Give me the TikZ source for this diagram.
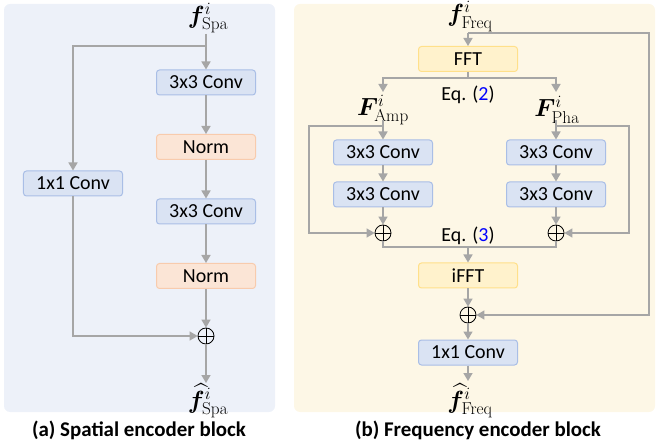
\documentclass[tikz,border=0pt]{standalone}
\usepackage{amsmath,bm}
\usepackage[no-math]{fontspec}
\setmainfont{Carlito}
\usetikzlibrary{arrows.meta}
\definecolor{bgA}{HTML}{EDF1F9}
\definecolor{bgB}{HTML}{FDF7E6}
\definecolor{convF}{HTML}{DAE3F3}
\definecolor{convD}{HTML}{A9BEE6}
\definecolor{normF}{HTML}{FBE5D6}
\definecolor{normD}{HTML}{F8CBAD}
\definecolor{fftF}{HTML}{FFF2CC}
\definecolor{fftD}{HTML}{FFE08A}
\definecolor{arrC}{HTML}{A6A6A6}
\definecolor{eqblue}{HTML}{0000FF}
\tikzset{
  txt/.style={font=\fontsize{20}{24}\selectfont, inner sep=0pt},
  mth/.style={font=\fontsize{23}{27}\selectfont, inner sep=0pt},
  blk/.style={txt, rounded corners=3bp, line width=1bp, minimum height=25bp, minimum width=99bp},
  convbox/.style={blk, fill=convF, draw=convD},
  normbox/.style={blk, fill=normF, draw=normD},
  fftbox/.style={blk, fill=fftF, draw=fftD},
  arr/.style={draw=arrC, line width=1.5bp, -{Triangle[width=9bp,length=8bp]}},
  ln/.style={draw=arrC, line width=1.5bp},
  plus/.style={circle, draw=black, line width=0.8bp, minimum size=16bp, inner sep=0pt,
    path picture={\draw[black, line width=0.8bp] (path picture bounding box.north) -- (path picture bounding box.south)
      (path picture bounding box.west) -- (path picture bounding box.east);}},
  captext/.style={font=\fontsize{21}{25}\selectfont\bfseries, inner sep=0pt},
}
\begin{document}
\begin{tikzpicture}[x=1bp,y=-1bp]
\useasboundingbox (0,0) rectangle (659,445);
% panels
\fill[bgA, rounded corners=6bp] (4,4) rectangle (275,412);
\fill[bgB, rounded corners=6bp] (294,4) rectangle (655,412);

% ---------- (a) spatial ----------
\node[mth] (fS) at (208,18) {$\bm{f}^{i}_{\mathrm{Spa}}$};
\coordinate (sA) at (206,34);
\coordinate (bA) at (206,46);
\node[convbox] (c1) at (206,82.5) {3x3 Conv};
\node[normbox] (n1) at (206,147) {Norm};
\node[convbox] (k1) at (73,183.5) {1x1 Conv};
\node[convbox] (c2) at (206,211.5) {3x3 Conv};
\node[normbox] (n2) at (206,276) {Norm};
\node[plus] (p1) at (206,336) {};
\coordinate (eA) at (206,383);
\node[mth] (hS) at (208,401) {$\widehat{\bm{f}}^{i}_{\mathrm{Spa}}$};
\node[captext] (capA) at (139,430) {(a) Spatial encoder block};

\draw[arr] (sA) -- (c1.north);
\draw[arr] (bA) -| (k1.north);
\draw[arr] (c1.south) -- (n1.north);
\draw[arr] (n1.south) -- (c2.north);
\draw[arr] (c2.south) -- (n2.north);
\draw[arr] (n2.south) -- (p1.north);
\draw[arr] (k1.south) |- (p1.west);
\draw[arr] (p1.south) -- (eA);

% ---------- (b) frequency ----------
\node[mth] (fF) at (470,16.5) {$\bm{f}^{i}_{\mathrm{Freq}}$};
\coordinate (sB) at (468,33);
\coordinate (rB) at (649,33);
\node[fftbox] (fft) at (468,59) {FFT};
\coordinate (spl) at (468,78);
\coordinate (splL) at (383,78);
\coordinate (splR) at (556,78);
\coordinate (tA) at (383,92);
\coordinate (tP) at (556,92);
\node[txt] (eq2) at (468,95) {Eq. (\textcolor{eqblue}{2})};
\node[mth] (FA) at (383,110) {$\bm{F}^{i}_{\mathrm{Amp}}$};
\node[mth] (FP) at (557,110) {$\bm{F}^{i}_{\mathrm{Pha}}$};
\coordinate (uA) at (383,120);
\coordinate (uP) at (556,120);
\coordinate (bLA) at (383,126);
\coordinate (bLP) at (556,126);
\coordinate (wA) at (309,126);
\coordinate (wP) at (629,126);
\node[convbox] (ca1) at (383,152.5) {3x3 Conv};
\node[convbox] (ca2) at (383,194.5) {3x3 Conv};
\node[convbox] (cp1) at (556,152.5) {3x3 Conv};
\node[convbox] (cp2) at (556,194.5) {3x3 Conv};
\node[plus] (pa) at (383,233) {};
\node[plus] (pp) at (556,233) {};
\node[txt] (eq3) at (468,236) {Eq. (\textcolor{eqblue}{3})};
\coordinate (mA) at (383,247);
\coordinate (mP) at (556,247);
\coordinate (mC) at (468,247);
\node[fftbox] (ifft) at (468,275.5) {iFFT};
\node[plus] (p3) at (468,315) {};
\node[convbox] (k2) at (468,352.5) {1x1 Conv};
\coordinate (eB) at (468,381);
\node[mth] (hF) at (470,401) {$\widehat{\bm{f}}^{i}_{\mathrm{Freq}}$};
\node[captext] (capB) at (478,430) {(b) Frequency encoder block};

\draw[arr] (sB) -- (fft.north);
\draw[arr] (sB) -- (rB) |- (p3.east);
\draw[ln] (fft.south) -- (spl);
\draw[arr] (spl) -- (splL) -- (tA);
\draw[arr] (spl) -- (splR) -- (tP);
\draw[arr] (uA) -- (ca1.north);
\draw[arr] (uP) -- (cp1.north);
\draw[arr] (bLA) -- (wA) |- (pa.west);
\draw[arr] (bLP) -- (wP) |- (pp.east);
\draw[arr] (ca1.south) -- (ca2.north);
\draw[arr] (cp1.south) -- (cp2.north);
\draw[arr] (ca2.south) -- (pa.north);
\draw[arr] (cp2.south) -- (pp.north);
\draw[ln] (pa.south) -- (mA) -- (mP) -- (pp.south);
\draw[arr] (mC) -- (ifft.north);
\draw[arr] (ifft.south) -- (p3.north);
\draw[arr] (p3.south) -- (k2.north);
\draw[arr] (k2.south) -- (eB);
\end{tikzpicture}
\end{document}
